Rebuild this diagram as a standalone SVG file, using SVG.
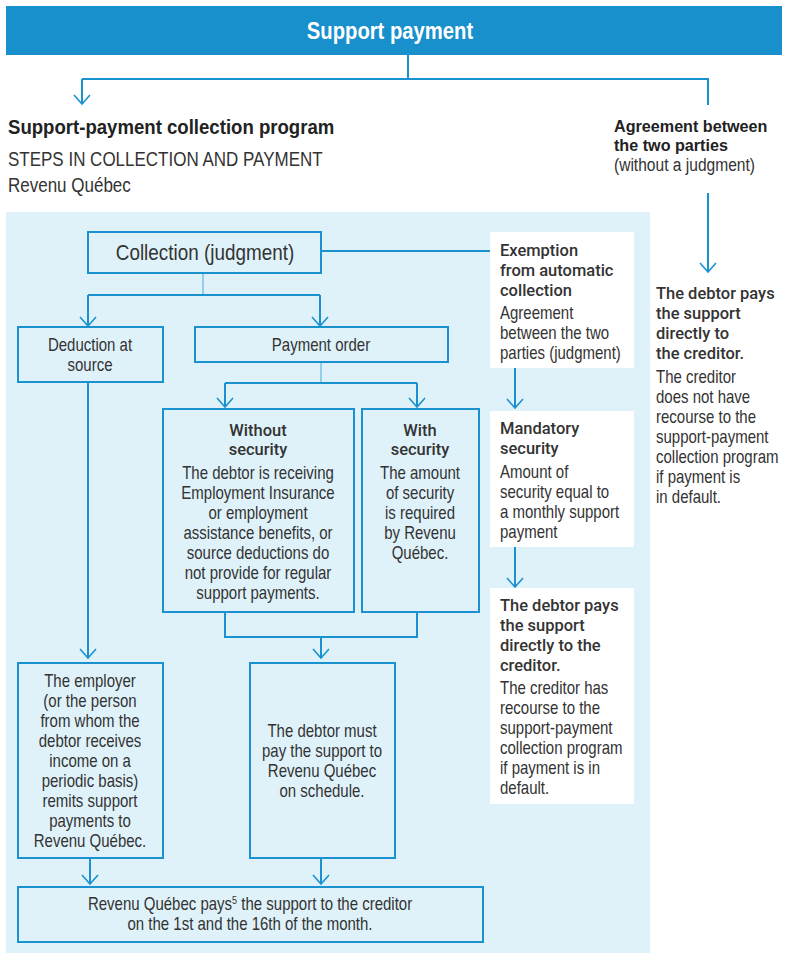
<svg xmlns="http://www.w3.org/2000/svg" width="786" height="953" viewBox="0 0 786 953">
<style>
.bx{fill:#dff2fa;stroke:#1b92d0;stroke-width:2}
.wb{fill:#ffffff}
.ln{fill:none;stroke:#1b92d0;stroke-width:2}
.lt{fill:none;stroke:#7cc3e6;stroke-width:1.5}
.ar{marker-end:url(#ah)}
text{fill:#333333;font-family:"Liberation Sans",Arial,sans-serif;transform-box:fill-box;transform-origin:left center}
.c{text-anchor:middle;transform-origin:center}
.hdr{font-weight:bold;font-size:23px;fill:#ffffff;transform:scaleX(.88)}
.h1{font-weight:bold;font-size:20px;fill:#222222;transform:scaleX(.93)}
.h2{font-weight:bold;font-size:17px;fill:#222222;transform:scaleX(.95)}
.sub{font-size:20px;transform:scaleX(.85)}
.b{font-size:18.3px;transform:scaleX(.82)}
.bw{font-size:19px;transform:scaleX(.82)}
.bl{font-size:22.5px;transform:scaleX(.84)}
.t{font-family:Roboto,"Liberation Sans",sans-serif;font-weight:500;font-size:17px;transform:scaleX(.97)}
</style>
<defs>
<marker id="ah" markerUnits="userSpaceOnUse" markerWidth="20" markerHeight="20" refX="0" refY="0" orient="auto" overflow="visible">
<path d="M-9,-8 L0,0 L-9,8" fill="none" stroke="#1b92d0" stroke-width="1.6"/>
</marker>
</defs>

<rect id="panel" x="6" y="212" width="644" height="741" fill="#dff2fa"/>

<g id="header">
<rect x="6" y="6" width="776" height="49" fill="#1890cc"/>
<text class="hdr c" x="390" y="39">Support payment</text>
</g>

<g id="program-title">
<text class="h1" x="8" y="134">Support-payment collection program</text>
<text class="sub" x="8" y="166">STEPS IN COLLECTION AND PAYMENT</text>
<text class="sub" x="8" y="192">Revenu Québec</text>
</g>

<g id="agreement-title">
<text class="h2" x="614" y="132">Agreement between</text>
<text class="h2" x="614" y="151">the two parties</text>
<text class="bw" x="614" y="171">(without a judgment)</text>
</g>

<g id="connectors">
<path class="ln" d="M408,55 V79 M82,79 H708 V105"/>
<path class="ln ar" d="M82,79 V104"/>
<path class="ln ar" d="M708,193 V272"/>
<path class="lt" d="M203,273 V295"/>
<path class="ln" d="M88,295 H320"/>
<path class="ln ar" d="M88,295 V326"/>
<path class="ln ar" d="M320,295 V326"/>
<path class="ln" d="M321,251 H490"/>
<path class="lt" d="M321,362 V383"/>
<path class="ln" d="M225,383 H417"/>
<path class="ln ar" d="M225,383 V407"/>
<path class="ln ar" d="M417,383 V407"/>
<path class="ln" d="M225,612 V637 H417 V612"/>
<path class="ln ar" d="M321,637 V658"/>
<path class="ln ar" d="M88,382 V658"/>
<path class="ln ar" d="M90,858 V884"/>
<path class="ln ar" d="M321,858 V884"/>
<path class="ln ar" d="M515,368 V408"/>
<path class="ln ar" d="M515,547 V587"/>
</g>

<g id="collection">
<rect class="bx" x="88" y="232" width="233" height="41"/>
<text class="bl c" x="205" y="260">Collection (judgment)</text>
</g>

<g id="deduction">
<rect class="bx" x="18" y="327" width="145" height="55"/>
<text class="b c" x="90" y="351">Deduction at</text>
<text class="b c" x="90" y="371">source</text>
</g>

<g id="payment-order">
<rect class="bx" x="195" y="327" width="253" height="35"/>
<text class="b c" x="321" y="351">Payment order</text>
</g>

<g id="without-security">
<rect class="bx" x="163" y="409" width="191" height="203"/>
<text class="t c" x="258" y="436">Without</text>
<text class="t c" x="258" y="455">security</text>
<text class="b c" x="258" y="479">The debtor is receiving</text>
<text class="b c" x="258" y="499">Employment Insurance</text>
<text class="b c" x="258" y="519">or employment</text>
<text class="b c" x="258" y="539">assistance benefits, or</text>
<text class="b c" x="258" y="559">source deductions do</text>
<text class="b c" x="258" y="579">not provide for regular</text>
<text class="b c" x="258" y="599">support payments.</text>
</g>

<g id="with-security">
<rect class="bx" x="362" y="409" width="117" height="203"/>
<text class="t c" x="420" y="436">With</text>
<text class="t c" x="420" y="455">security</text>
<text class="b c" x="420" y="479">The amount</text>
<text class="b c" x="420" y="499">of security</text>
<text class="b c" x="420" y="519">is required</text>
<text class="b c" x="420" y="539">by Revenu</text>
<text class="b c" x="420" y="559">Québec.</text>
</g>

<g id="employer">
<rect class="bx" x="18" y="663" width="145" height="195"/>
<text class="b c" x="90" y="687">The employer</text>
<text class="b c" x="90" y="707">(or the person</text>
<text class="b c" x="90" y="727">from whom the</text>
<text class="b c" x="90" y="747">debtor receives</text>
<text class="b c" x="90" y="767">income on a</text>
<text class="b c" x="90" y="787">periodic basis)</text>
<text class="b c" x="90" y="807">remits support</text>
<text class="b c" x="90" y="827">payments to</text>
<text class="b c" x="90" y="847">Revenu Québec.</text>
</g>

<g id="debtor-must">
<rect class="bx" x="250" y="663" width="145" height="195"/>
<text class="b c" x="322" y="737">The debtor must</text>
<text class="b c" x="322" y="757">pay the support to</text>
<text class="b c" x="322" y="777">Revenu Québec</text>
<text class="b c" x="322" y="797">on schedule.</text>
</g>

<g id="revenu-pays">
<rect class="bx" x="18" y="887" width="465" height="55"/>
<text class="b c" x="250" y="910">Revenu Québec pays<tspan font-size="11" dy="-6">5</tspan><tspan dy="6"> the support to the creditor</tspan></text>
<text class="b c" x="250" y="930">on the 1st and the 16th of the month.</text>
</g>

<g id="exemption">
<rect class="wb" x="490" y="232" width="144" height="136"/>
<text class="t" x="500" y="256">Exemption</text>
<text class="t" x="500" y="276">from automatic</text>
<text class="t" x="500" y="296">collection</text>
<text class="b" x="500" y="319">Agreement</text>
<text class="b" x="500" y="339">between the two</text>
<text class="b" x="500" y="359">parties (judgment)</text>
</g>

<g id="mandatory-security">
<rect class="wb" x="490" y="411" width="144" height="136"/>
<text class="t" x="500" y="434">Mandatory</text>
<text class="t" x="500" y="454">security</text>
<text class="b" x="500" y="478">Amount of</text>
<text class="b" x="500" y="498">security equal to</text>
<text class="b" x="500" y="518">a monthly support</text>
<text class="b" x="500" y="538">payment</text>
</g>

<g id="debtor-pays-with-recourse">
<rect class="wb" x="490" y="588" width="144" height="216"/>
<text class="t" x="500" y="611">The debtor pays</text>
<text class="t" x="500" y="631">the support</text>
<text class="t" x="500" y="651">directly to the</text>
<text class="t" x="500" y="671">creditor.</text>
<text class="b" x="500" y="694">The creditor has</text>
<text class="b" x="500" y="714">recourse to the</text>
<text class="b" x="500" y="734">support-payment</text>
<text class="b" x="500" y="754">collection program</text>
<text class="b" x="500" y="774">if payment is in</text>
<text class="b" x="500" y="794">default.</text>
</g>

<g id="debtor-pays-no-recourse">
<text class="t" x="656" y="299">The debtor pays</text>
<text class="t" x="656" y="319">the support</text>
<text class="t" x="656" y="339">directly to</text>
<text class="t" x="656" y="359">the creditor.</text>
<text class="b" x="656" y="383">The creditor</text>
<text class="b" x="656" y="403">does not have</text>
<text class="b" x="656" y="423">recourse to the</text>
<text class="b" x="656" y="443">support-payment</text>
<text class="b" x="656" y="463">collection program</text>
<text class="b" x="656" y="483">if payment is</text>
<text class="b" x="656" y="503">in default.</text>
</g>
</svg>
